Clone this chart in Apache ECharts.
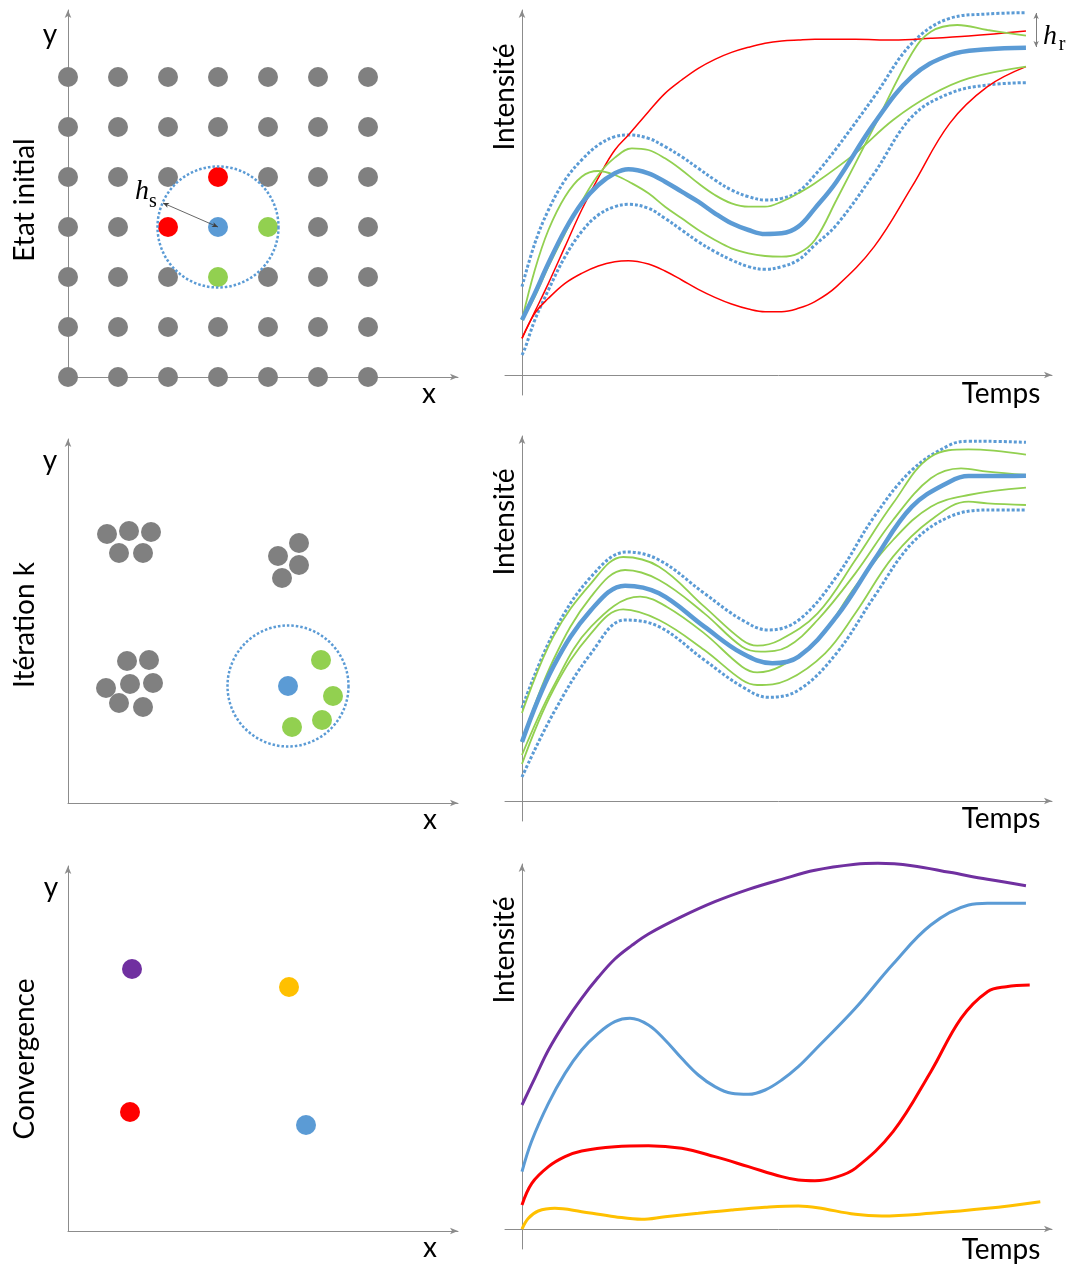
<!DOCTYPE html>
<html><head><meta charset="utf-8">
<script src="https://cdn.jsdelivr.net/npm/echarts@6/dist/echarts.min.js"></script>
<style>html,body{margin:0;padding:0;background:#fff}#c{width:1069px;height:1269px}</style>
</head><body><div id="c"></div>
<script>
// ---------- DATA ----------
// Left column: positions in units of dot spacing (x along, y up)
const gridCols = [0, 1, 2, 3, 4, 5, 6];
const gridRows = [0, 1, 2, 3, 4, 5, 6];
const initRed = [[2, 3], [3, 4]];
const initBlue = [[3, 3]];
const initGreen = [[4, 3], [3, 2]];
const initWindowCenter = [[3, 3]];
const hsArrow = [[3, 3], [1.9, 3.48]];

const iterGrey = [
  [0.78, 5.38], [1.22, 5.44], [1.66, 5.42], [1.02, 5.00], [1.50, 5.00],
  [4.62, 5.20], [4.20, 4.94], [4.62, 4.76], [4.28, 4.50],
  [1.18, 2.84], [1.62, 2.86], [0.76, 2.30], [1.24, 2.38], [1.70, 2.40], [1.02, 2.00], [1.50, 1.92]
];
const iterBlue = [[4.40, 2.34]];
const iterGreen = [[5.06, 2.86], [5.30, 2.14], [5.08, 1.66], [4.48, 1.52]];
const iterWindowCenter = [[4.40, 2.34]];

const convPurple = [[1.28, 5.24]];
const convYellow = [[4.42, 4.88]];
const convRed = [[1.24, 2.38]];
const convBlue = [[4.76, 2.12]];

// Right column: [Temps, Intensité]
const initBlueMean = [[0,165],[34,245],[70,335],[114,435],[158,515],[202,570],[246,605],[282,617],[335,605],[379,580],[423,550],[467,520],[511,485],[555,455],[600,435],[644,423],[688,425],[732,445],[776,500],[833,580],[933,755],[1033,895],[1133,960],[1233,977],[1335,982]];
const initBlueUpper = [[0,265],[34,395],[70,495],[114,585],[158,645],[202,690],[246,715],[282,720],[335,710],[379,685],[423,655],[467,620],[511,585],[555,555],[600,535],[644,525],[688,530],[732,550],[776,600],[833,680],[933,835],[1033,995],[1133,1070],[1233,1083],[1335,1087]];
const initBlueLower = [[0,60],[8,80],[34,165],[70,255],[114,355],[158,430],[202,480],[246,505],[282,512],[335,500],[379,470],[423,435],[467,400],[511,370],[555,345],[600,325],[644,317],[688,325],[732,345],[776,390],[833,450],[933,605],[1033,775],[1133,845],[1233,870],[1335,877]];
const initRedA = [[0,110],[34,190],[70,275],[114,385],[158,495],[211,610],[246,675],[282,720],[335,790],[379,845],[423,885],[467,920],[511,947],[555,968],[600,983],[644,995],[688,1002],[732,1005],[776,1007],[883,1007],[983,1005],[1083,1010],[1183,1017],[1335,1032]];
const initRedB = [[0,110],[34,185],[70,230],[114,275],[158,305],[202,327],[246,340],[282,343],[335,333],[379,312],[423,285],[467,257],[511,233],[555,213],[600,198],[644,190],[688,190],[732,200],[776,220],[833,265],[933,385],[1033,565],[1133,755],[1233,865],[1335,925]];
const initGreenA = [[0,165],[34,315],[70,435],[114,535],[158,595],[202,612],[246,600],[291,575],[335,545],[379,505],[423,470],[467,435],[511,405],[555,380],[600,365],[644,357],[688,355],[732,365],[776,405],[833,525],[933,745],[1033,965],[1083,1030],[1153,1050],[1233,1035],[1335,1018]];
const initGreenB = [[0,165],[34,235],[70,325],[114,425],[158,520],[202,600],[246,652],[291,680],[335,675],[379,650],[423,615],[467,575],[511,540],[555,515],[600,505],[644,505],[688,520],[732,545],[776,575],[883,665],[983,765],[1083,840],[1183,890],[1335,925]];
const hrArrow = [[1362, 1086], [1362, 984]];

const iterBlueMean = [[0,177],[83,403],[183,573],[273,646],[363,623],[483,523],[583,443],[663,413],[733,433],[833,553],[933,723],[1033,883],[1133,958],[1183,975],[1233,975],[1335,976]];
const iterBlueUpper = [[0,279],[83,503],[183,673],[278,747],[363,723],[483,623],[583,543],[653,513],[733,543],[833,673],[933,853],[1033,993],[1133,1068],[1183,1079],[1233,1079],[1335,1076]];
const iterBlueLower = [[0,72],[83,263],[183,443],[273,543],[363,523],[483,423],[583,343],[653,311],[733,333],[833,443],[933,613],[1033,773],[1133,853],[1233,873],[1335,873]];
const iterGreen1 = [[0,264],[83,493],[183,653],[268,732],[363,703],[483,583],[583,483],[623,466],[683,483],[783,563],[883,723],[983,893],[1083,1033],[1183,1055],[1335,1039]];
const iterGreen2 = [[0,177],[83,423],[183,613],[273,693],[363,663],[483,563],[583,463],[633,448],[703,463],[783,543],[883,683],[983,843],[1083,968],[1163,998],[1233,988],[1335,978]];
const iterGreen3 = [[0,138],[83,343],[183,523],[313,613],[383,583],[483,503],[583,403],[623,386],[683,403],[783,483],[883,643],[983,783],[1083,883],[1183,918],[1335,940]];
const iterGreen4 = [[0,111],[83,333],[183,503],[268,575],[363,543],[483,453],[583,363],[623,348],[703,363],[803,443],[883,563],[983,733],[1083,843],[1183,898],[1233,893],[1335,888]];

const convPurpleCurve = [[0,372],[35,455],[70,537],[114,620],[158,692],[202,755],[246,810],[290,850],[335,885],[423,937],[511,982],[600,1019],[688,1049],[776,1076],[883,1094],[943,1097],[1033,1090],[1133,1070],[1233,1049],[1335,1030]];
const convBlueCurve = [[0,172],[25,262],[70,377],[114,467],[158,537],[202,587],[246,622],[286,632],[335,612],[379,567],[423,512],[467,462],[511,427],[555,407],[600,404],[644,417],[688,447],[732,487],[776,537],[883,662],[983,795],[1083,912],[1183,972],[1233,977],[1335,977]];
const convRedCurve = [[0,72],[26,137],[70,187],[114,217],[158,234],[246,247],[335,250],[423,242],[511,217],[600,187],[688,157],[732,147],[776,145],[830,155],[883,182],[983,292],[1083,472],[1163,632],[1233,712],[1283,727],[1345,732]];
const convYellowCurve = [[0,0],[17,32],[43,54],[87,62],[158,52],[246,37],[317,29],[379,37],[467,47],[555,57],[644,65],[732,69],[783,64],[883,44],[953,39],[1083,47],[1233,62],[1373,82]];

// ---------- STYLE / LAYOUT ----------
const AX = '#8c8c8c';
const BLUE = '#5b9bd5', RED = '#ff0000', GREEN = '#92d050', GREY = '#808080', PURPLE = '#7030a0', YELLOW = '#ffc000';
const FONT = 'Lato, "Open Sans", sans-serif';
const SMOOTH = 0.38;

const leftPanels = [{top: 10, height: 367, ymax: 7.34}, {top: 439, height: 364, ymax: 7.28}, {top: 866, height: 365, ymax: 7.30}];
const rightAxisY = [375, 801, 1229];
const R_XMIN = -45, R_XMAX = 1404, R_YMIN = -60, R_YMAX = 1095;

const grids = [], xAxes = [], yAxes = [], series = [];
function axisBase(extra) {
  return Object.assign({
    axisTick: {show: false}, axisLabel: {show: false}, splitLine: {show: false},
    axisLine: {show: true, onZero: true, symbol: ['none', 'arrow'], symbolSize: [5, 8], lineStyle: {color: AX, width: 1}}
  }, extra);
}
leftPanels.forEach((p, i) => {
  grids.push({left: 68, top: p.top, width: 390, height: p.height});
  xAxes.push(axisBase({type: 'value', gridIndex: i, min: 0, max: 7.8}));
  yAxes.push(axisBase({type: 'value', gridIndex: i, min: 0, max: p.ymax}));
});
rightAxisY.forEach((ay, k) => {
  const i = 3 + k;
  grids.push({left: 505, top: ay - R_YMAX / 3, width: 547, height: (R_YMAX - R_YMIN) / 3});
  xAxes.push(axisBase({type: 'value', gridIndex: i, min: R_XMIN, max: R_XMAX}));
  yAxes.push(axisBase({type: 'value', gridIndex: i, min: R_YMIN, max: R_YMAX}));
});

function dots(data, idx, color, z) {
  series.push({type: 'scatter', xAxisIndex: idx, yAxisIndex: idx, data: data, symbolSize: 20, clip: false, silent: true, z: z || 3,
    itemStyle: {color: color, opacity: 1}});
}
function windowCircle(data, idx) {
  series.push({type: 'scatter', xAxisIndex: idx, yAxisIndex: idx, data: data, symbolSize: 121, clip: false, silent: true, z: 5,
    itemStyle: {color: 'rgba(0,0,0,0)', borderColor: BLUE, borderWidth: 2.5, borderType: [2.5, 2], opacity: 1}});
}
function curve(data, idx, color, width, type, z) {
  series.push({type: 'line', xAxisIndex: idx, yAxisIndex: idx, data: data, smooth: SMOOTH, showSymbol: false, silent: true, clip: false, z: z || 3,
    lineStyle: {color: color, width: width, type: type || 'solid'}});
}

// Panel 1 left: initial grid
const greyInit = [];
gridCols.forEach(c => gridRows.forEach(r => {
  const taken = initRed.concat(initBlue, initGreen).some(p => p[0] === c && p[1] === r);
  if (!taken) greyInit.push([c, r]);
}));
dots(greyInit, 0, GREY);
dots(initRed, 0, RED);
dots(initGreen, 0, GREEN);
dots(initBlue, 0, BLUE);
windowCircle(initWindowCenter, 0);
series.push({type: 'line', xAxisIndex: 0, yAxisIndex: 0, data: [], silent: true, z: 6,
  markLine: {silent: true, symbol: ['arrow', 'arrow'], symbolSize: [4, 6], label: {show: false},
    lineStyle: {color: '#404040', width: 0.8, type: 'solid'},
    data: [[{coord: hsArrow[0]}, {coord: hsArrow[1]}]]}});

// Panel 2 left
dots(iterGrey, 1, GREY);
dots(iterGreen, 1, GREEN);
dots(iterBlue, 1, BLUE);
windowCircle(iterWindowCenter, 1);

// Panel 3 left
dots(convPurple, 2, PURPLE);
dots(convYellow, 2, YELLOW);
dots(convRed, 2, RED);
dots(convBlue, 2, BLUE);

// Panel 1 right
curve(initBlueUpper, 3, BLUE, 3, [3, 2]);
curve(initBlueLower, 3, BLUE, 3, [3, 2]);
curve(initRedA, 3, RED, 1.5);
curve(initRedB, 3, RED, 1.5);
curve(initGreenA, 3, GREEN, 1.8);
curve(initGreenB, 3, GREEN, 1.8);
curve(initBlueMean, 3, BLUE, 4.5, 'solid', 4);
series.push({type: 'line', xAxisIndex: 3, yAxisIndex: 3, data: [], silent: true, z: 6,
  markLine: {silent: true, symbol: ['arrow', 'arrow'], symbolSize: [4, 6], label: {show: false},
    lineStyle: {color: '#7f7f7f', width: 1, type: 'solid'},
    data: [[{coord: hrArrow[0]}, {coord: hrArrow[1]}]]}});

// Panel 2 right
curve(iterBlueUpper, 4, BLUE, 3, [3, 2]);
curve(iterBlueLower, 4, BLUE, 3, [3, 2]);
curve(iterGreen1, 4, GREEN, 1.8);
curve(iterGreen2, 4, GREEN, 1.8);
curve(iterGreen3, 4, GREEN, 1.8);
curve(iterGreen4, 4, GREEN, 1.8);
curve(iterBlueMean, 4, BLUE, 4.5, 'solid', 4);

// Panel 3 right
curve(convPurpleCurve, 5, PURPLE, 3);
curve(convBlueCurve, 5, BLUE, 3);
curve(convRedCurve, 5, RED, 3);
curve(convYellowCurve, 5, YELLOW, 3);

// ---------- TEXT ----------
function txt(s, x, y, size, rot, font) {
  return {type: 'text', x: x, y: y, rotation: rot || 0, silent: true, z: 10,
    style: {text: s, fill: '#000', font: (font || (size + 'px ' + FONT)), textAlign: 'center', textVerticalAlign: 'middle'}};
}
const V = Math.PI / 2;
const graphics = [
  txt('y', 50, 35, 28), txt('x', 429, 394, 28),
  txt('y', 50, 461, 28), txt('x', 430, 820, 28),
  txt('y', 51, 888, 28), txt('x', 430, 1248, 28),
  txt('Etat initial', 25, 200, 28, V),
  txt('Itération k', 25, 625, 28, V),
  txt('Convergence', 25, 1059, 28, V),
  txt('Intensité', 505, 97, 28, V), txt('Temps', 1001, 394, 28),
  txt('Intensité', 505, 522, 28, V), txt('Temps', 1001, 819, 28),
  txt('Intensité', 505, 950, 28, V), txt('Temps', 1001, 1250, 28),
  txt('h', 142, 192, 0, 0, 'italic 28px "Liberation Serif", serif'),
  txt('s', 153, 202, 0, 0, '20px "Liberation Serif", serif'),
  txt('h', 1050, 37, 0, 0, 'italic 28px "Liberation Serif", serif'),
  txt('r', 1062, 45, 0, 0, '20px "Liberation Serif", serif')
];

const chart = echarts.init(document.getElementById('c'), null, {renderer: 'canvas'});
chart.setOption({
  animation: false,
  backgroundColor: '#fff',
  grid: grids, xAxis: xAxes, yAxis: yAxes, series: series,
  graphic: graphics
});
</script></body></html>
